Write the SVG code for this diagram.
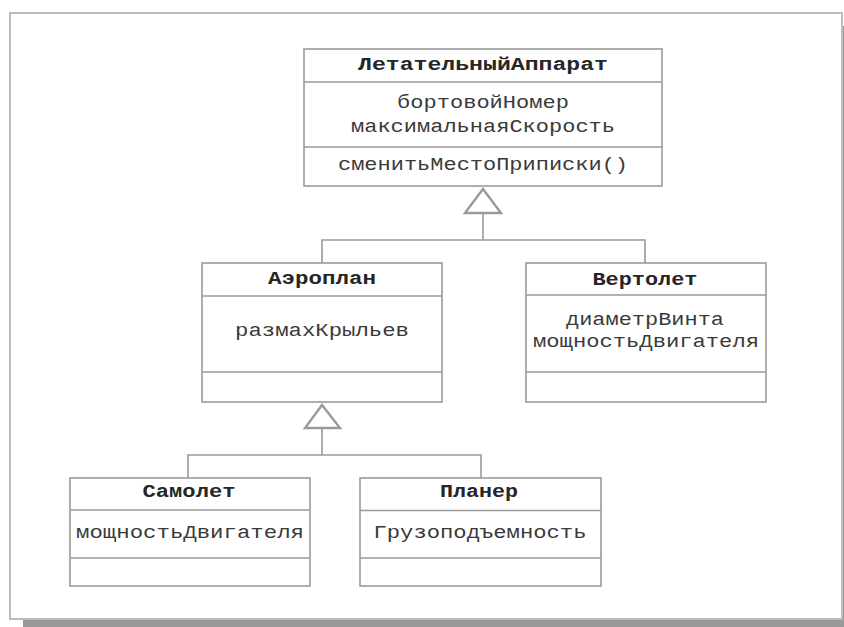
<svg xmlns="http://www.w3.org/2000/svg" width="844" height="627" viewBox="0 0 844 627">
<style>
.box{fill:#fff;stroke:#9a9a9a;stroke-width:1.6}
.div{stroke:#9a9a9a;stroke-width:1.6}
.t{font-family:"Liberation Mono","Courier New",monospace;font-size:18.5px;fill:#3a3a3a;text-anchor:middle}
.b{font-weight:bold;fill:#262626}
.c{fill:none;stroke:#9a9a9a;stroke-width:1.6}
.tri{fill:#fff;stroke:#9a9a9a;stroke-width:2.4;stroke-linejoin:miter}
</style>
<rect x="23" y="26" width="832" height="606" fill="#999"/>
<rect x="10" y="13" width="832" height="606" fill="#fff" stroke="#bdbdbd" stroke-width="2"/>
<g id="connectors">
<polyline class="c" points="483,213 483,240"/>
<polyline class="c" points="322,263 322,240 645,240 645,263"/>
<polygon class="tri" points="483,189 465,213 501,213"/>
<polyline class="c" points="322,428 322,455"/>
<polyline class="c" points="188,478 188,455 481,455 481,478"/>
<polygon class="tri" points="322,405 305,428 340,428"/>
</g>
<g id="aircraft">
<rect class="box" x="304" y="49" width="358" height="137"/>
<line class="div" x1="304" y1="82" x2="662" y2="82"/>
<line class="div" x1="304" y1="147" x2="662" y2="147"/>
<text class="t b" x="483" y="70" textLength="250" lengthAdjust="spacingAndGlyphs">ЛетательныйАппарат</text>
<text class="t" x="483" y="107.5" textLength="172" lengthAdjust="spacingAndGlyphs">бортовойНомер</text>
<text class="t" x="483" y="131.5" textLength="264" lengthAdjust="spacingAndGlyphs">максимальнаяСкорость</text>
<text class="t" x="483" y="170" textLength="290" lengthAdjust="spacingAndGlyphs">сменитьМестоПриписки()</text>
</g>
<g id="aeroplane">
<rect class="box" x="202" y="263" width="240" height="139"/>
<line class="div" x1="202" y1="296" x2="442" y2="296"/>
<line class="div" x1="202" y1="372" x2="442" y2="372"/>
<text class="t b" x="322" y="284" textLength="108" lengthAdjust="spacingAndGlyphs">Аэроплан</text>
<text class="t" x="322" y="335.5" textLength="174" lengthAdjust="spacingAndGlyphs">размахКрыльев</text>
</g>
<g id="helicopter">
<rect class="box" x="526" y="263" width="240" height="139"/>
<line class="div" x1="526" y1="295" x2="766" y2="295"/>
<line class="div" x1="526" y1="372" x2="766" y2="372"/>
<text class="t b" x="645" y="284.5" textLength="105" lengthAdjust="spacingAndGlyphs">Вертолет</text>
<text class="t" x="645" y="325" textLength="158" lengthAdjust="spacingAndGlyphs">диаметрВинта</text>
<text class="t" x="646" y="346.5" textLength="226" lengthAdjust="spacingAndGlyphs">мощностьДвигателя</text>
</g>
<g id="airplane">
<rect class="box" x="70" y="478" width="240" height="108"/>
<line class="div" x1="70" y1="510" x2="310" y2="510"/>
<line class="div" x1="70" y1="558" x2="310" y2="558"/>
<text class="t b" x="189" y="496.5" textLength="93" lengthAdjust="spacingAndGlyphs">Самолет</text>
<text class="t" x="190" y="538" textLength="228" lengthAdjust="spacingAndGlyphs">мощностьДвигателя</text>
</g>
<g id="glider">
<rect class="box" x="360" y="478" width="241" height="108"/>
<line class="div" x1="360" y1="510.5" x2="601" y2="510.5"/>
<line class="div" x1="360" y1="558" x2="601" y2="558"/>
<text class="t b" x="479" y="497" textLength="78" lengthAdjust="spacingAndGlyphs">Планер</text>
<text class="t" x="480" y="538" textLength="213" lengthAdjust="spacingAndGlyphs">Грузоподъемность</text>
</g>
</svg>
